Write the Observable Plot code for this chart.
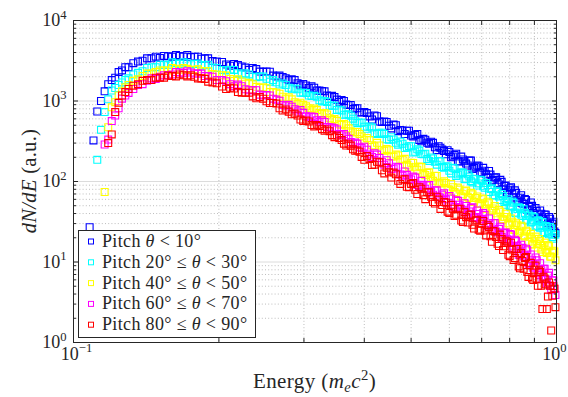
<!DOCTYPE html>
<html><head><meta charset="utf-8">
<script src="https://cdn.jsdelivr.net/npm/d3@7"></script>
<script src="https://cdn.jsdelivr.net/npm/@observablehq/plot@0.6"></script>
<style>
html,body{margin:0;padding:0;background:#fff;}
#chart{width:568px;height:397px;position:relative;}
</style></head><body><div id="chart"></div>
<script>
// Energy bins (m_e c^2), set A
const energyA = [0.108,0.110,0.112,0.114,0.116,0.118,0.120,0.122,0.124,0.126,0.128,0.130,0.133,0.136,0.139,0.142,0.145,0.148,0.151,0.154,0.157,0.160,0.163,0.166,0.169,0.172,0.175,0.178,0.181,0.184,0.187,0.190,0.194,0.198,
 0.203,0.211,0.219,0.227,0.235,0.243,0.251,0.259,0.267,0.275,0.283,0.291,0.299,0.307,0.315,0.323,0.331,0.339,0.347,0.355,0.363,0.371,0.379,0.387,0.395,
 0.405,0.415,0.425,0.435,0.445,0.455,0.465,0.475,0.485,0.495,0.505,0.515,0.525,0.535,0.545,0.555,0.565,0.575,0.585,0.595,0.605,0.615,0.625,0.635,0.645,0.655,0.665,0.675,0.685,0.695,0.705,0.715,0.725,0.735,0.745,0.755,0.765,0.775,0.785,0.795,0.805,0.815,0.825,0.835,0.845,0.855,0.865,0.875,0.885,0.895,0.905,0.915,0.925,0.935,0.945,0.955,0.965,0.975,0.985,0.995];
// Energy bins, set B (in between set A)
const energyB = [0.207,0.215,0.223,0.231,0.239,0.247,0.255,0.263,0.271,0.279,0.287,0.295,0.303,0.311,0.319,0.327,0.335,0.343,0.351,0.359,0.367,0.375,0.383,0.391,
 0.400,0.410,0.420,0.430,0.440,0.450,0.460,0.470,0.480,0.490,0.500,0.510,0.520,0.530,0.540,0.550,0.560,0.570,0.580,0.590,0.600,0.610,0.620,0.630,0.640,0.650,0.660,0.670,0.680,0.690,0.700,0.710,0.720,0.730,0.740,0.750,0.760,0.770,0.780,0.790,0.800,0.810,0.820,0.830,0.840,0.850,0.860,0.870,0.880,0.890,0.900,0.910,0.920,0.930,0.940,0.950,0.960,0.970,0.980,0.990];

// dN/dE, pitch θ < 10°
const pitch0_10A = [27,324,741,1000,1320,1620,1820,1950,2290,2400,2630,2630,2950,3090,3160,3390,3390,3550,3430,3630,3590,3550,3720,3630,3550,3720,3510,3550,3550,3350,3390,3390,3130,3090,
 3050,2750,2790,2600,2570,2320,2330,2070,2070,1910,1860,1660,1630,1450,1460,1350,1320,1150,1120,977,1000,891,794,813,724,
 708,589,646,550,550,457,501,437,389,427,363,389,316,331,295,302,245,263,240,245,200,214,178,204,178,158,182,148,158,129,148,123,135,102,112,95.5,105,79.4,89.1,77.6,85.1,63.1,72.4,55.0,67.6,52.5,58.9,43.7,55.0,40.7,46.8,34.7,43.7,34.7,38.9,28.8,36.3,27.5,31.6,22.9];
const pitch0_10B = [2850,2890,2690,2440,2490,2300,2310,2010,1990,1820,1820,1570,1560,1520,1350,1330,1170,1160,1040,1030,902,893,811,719,
 730,644,661,555,555,493,509,422,430,428,373,378,328,339,303,312,266,275,249,218,233,205,221,177,188,167,182,143,153,155,130,136,113,122,105,113,91.7,99.1,87.9,73.2,82.4,69.7,77.6,57.9,62.8,53.8,60.8,44.2,48.5,49.8,39.3,43.1,34.8,39.8,34.0,38.6,30.2,34.5,30.0,24.0];

// pitch 20° ≤ θ < 30°
const pitch20_30A = [null,null,186,438,728,1050,1350,1450,1580,1700,1820,1910,2140,2240,2340,2570,2630,2630,2820,2820,2820,3020,2950,2880,3020,2950,2850,2880,2920,2750,2790,2820,2600,2570,
 2430,2450,2210,2210,2000,2020,1890,1820,1600,1580,1400,1400,1270,1170,1160,1020,1000,871,871,776,676,684,603,531,537,
 452,468,389,403,335,355,302,313,260,275,229,251,219,221,180,193,162,178,148,155,126,145,122,130,107,123,101,108,89.1,105,87.1,95.5,74.1,82.2,66.8,76.7,58.9,66.1,51.3,60.3,47.9,54.3,40.3,47.9,38.9,45.2,33.5,38.9,30.9,36.7,27.5,33.1,26.6,31.3,22.9,27.5,22.1,26.0,19.5,21.9];
const pitch20_30B = [2400,2430,2140,2140,1980,2010,1740,1710,1650,1460,1430,1270,1260,1150,1130,989,974,879,775,762,674,657,560,541,
 479,483,398,403,390,330,333,287,295,265,274,234,242,218,190,199,176,180,151,153,136,148,117,126,128,108,115,97.5,107,94.7,103,83.7,90.4,80.5,67.5,74.5,65.0,70.0,55.4,57.4,49.7,56.4,41.2,45.5,47.0,37.2,40.6,32.7,37.2,31.6,35.8,28.2,32.4,28.6,23.6,27.9,24.0,27.2,20.4,22.0];

// pitch 40° ≤ θ < 50°
const pitch40_50A = [null,null,null,null,74,472,835,966,1170,1320,1480,1580,1780,1860,2040,2190,2190,2290,2400,2400,2400,2570,2510,2450,2570,2510,2430,2450,2480,2340,2340,2340,2160,2140,
 2090,1880,1860,1640,1620,1450,1440,1290,1230,1070,1050,923,897,813,804,708,708,610,596,513,519,457,407,412,363,
 347,282,302,245,254,204,216,186,191,153,170,140,151,120,130,102,117,94.4,101,79.4,93.3,74.1,84.1,65.3,75.9,64.6,72.4,55.6,65.3,53.7,61.7,45.7,53.7,43.2,49.5,36.7,42.2,33.9,39.8,30.2,34.7,25.1,30.2,22.9,28.2,21.4,24.5,17.8,22.4,16.6,20.7,15.1,18.2,13.3,17.4,12.9,15.7,11.6,13.8,10.5];
const pitch40_50B = [2070,1780,1750,1680,1500,1480,1290,1270,1130,1110,967,951,859,772,772,693,680,583,567,506,496,422,412,390,
 330,327,274,280,241,245,204,211,187,161,171,150,154,126,128,113,118,94.8,97.4,95.8,79.4,85.1,70.8,79.4,69.5,77.2,62.4,69.2,62.4,52.7,60.3,51.9,56.2,43.7,46.2,40.3,44.2,33.9,36.3,36.3,28.9,31.7,25.0,28.7,24.0,27.4,20.8,23.8,20.6,16.5,19.5,16.7,19.3,14.3,16.1,13.9,16.2,11.7,13.1,13.5];

// pitch 60° ≤ θ < 70°
const pitch60_70A = [null,null,null,null,288,332,563,661,813,1070,1170,1260,1410,1580,1620,1780,1910,1880,2000,2090,2090,2140,2290,2260,2240,2340,2260,2190,2190,2190,2040,2040,2000,1820,
 1820,1620,1600,1400,1360,1200,1190,1070,1010,881,851,741,713,638,631,550,550,473,457,389,389,339,295,295,260,
 248,202,216,176,184,143,153,122,133,108,115,90.2,102,81.3,90.2,68.4,77.6,63.1,71.6,54.3,61.7,47.9,57.5,45.7,53.7,39.8,46.8,35.5,43.7,33.9,40.7,29.2,34.7,25.1,30.5,23.2,27.5,19.5,23.2,17.2,21.9,15.0,18.2,12.3,16.4,11.7,14.6,9.55,12.4,8.51,11.4,7.33,9.66,6.10,8.22,5.43,7.33,4.52,5.89,3.89];
const pitch60_70B = [1760,1530,1530,1360,1360,1170,1170,1040,892,897,791,775,646,643,576,575,476,468,444,376,363,309,304,266,
 271,216,225,196,162,169,145,150,118,121,106,112,87.5,91.0,90.2,75.2,77.3,65.0,68.7,60.0,65.9,51.3,58.6,51.5,42.3,49.7,42.5,47.9,36.1,39.6,34.4,38.5,27.7,30.3,30.5,23.9,25.8,20.5,23.0,19.1,22.3,15.9,18.9,15.9,12.2,15.0,12.1,14.0,9.57,10.7,8.81,10.5,6.92,7.91,8.24,6.05,6.79,5.08,5.92,4.63];

// pitch 80° ≤ θ < 90°
const pitch80_90A = [null,null,null,null,null,300,384,728,950,1170,1290,1410,1550,1620,1780,1820,1820,1950,1950,1950,2070,2040,2020,2140,2090,2020,2090,2000,1910,1910,1880,1740,1700,1660,
 1510,1460,1290,1270,1140,1120,993,944,813,785,684,661,566,556,484,490,427,422,355,347,295,295,251,243,202,
 207,160,176,138,148,112,123,93.3,107,85.1,95.5,70.0,81.3,60.3,73.3,55.6,64.6,45.7,55.6,42.2,51.3,37.2,45.2,32.7,41.7,30.9,38.9,26.0,33.5,24.5,32.4,21.4,27.2,17.8,24.0,16.8,21.9,14.1,18.4,12.3,17.4,10.6,14.5,8.81,12.9,8.22,11.5,6.53,9.77,5.96,9.02,5.07,7.50,2.6,6.24,2.6,5.56,1.41,5.01,2.75];
const pitch80_90B = [1410,1430,1270,1270,1080,1070,945,929,760,738,697,588,572,502,505,447,443,376,372,327,280,279,241,234,
 186,191,162,173,126,130,129,102,106,86.1,93.3,78.9,85.0,67.6,73.6,64.6,53.3,59.6,50.9,55.0,40.7,46.0,38.6,46.0,31.4,36.1,38.2,29.0,32.7,25.2,30.0,24.7,28.7,20.9,24.3,20.5,15.8,19.3,15.7,17.9,11.8,14.3,11.2,14.5,8.36,10.3,11.2,7.52,9.04,6.22,8.04,6.12,7.84,5.07,6.58,5.27,3.72,5.08,3.80,4.68];

const seriesA = [pitch0_10A, pitch20_30A, pitch40_50A, pitch60_70A, pitch80_90A];
const seriesB = [pitch0_10B, pitch20_30B, pitch40_50B, pitch60_70B, pitch80_90B];
const seriesColors = ["#0000ff", "#00ffff", "#ffff00", "#ff00ff", "#ff0000"];
const legendLower = [null, "20°", "40°", "60°", "80°"];
const legendUpper = ["10°", "30°", "50°", "70°", "90°"];

const xMajorTicks = [0.1, 1];
const xMinorTicks = [0.2, 0.3, 0.4, 0.5, 0.6, 0.7, 0.8, 0.9];
const yMajorTicks = [1, 10, 100, 1000, 10000];
const yGridMajor = [10, 100, 1000];
const yMinorTicks = [2,3,4,5,6,7,8,9,20,30,40,50,60,70,80,90,200,300,400,500,600,700,800,900,2000,3000,4000,5000,6000,7000,8000,9000];

const serif = "'Liberation Serif', 'DejaVu Serif', serif";
const axisColor = "#262626";

const seriesMarks = seriesA.map((valsA, s) => {
  const rows = [];
  valsA.forEach((v, i) => { if (v != null) rows.push({E: energyA[i], v}); });
  seriesB[s].forEach((v, i) => { if (v != null) rows.push({E: energyB[i], v}); });
  return Plot.dot(rows, {x: "E", y: "v", symbol: "square", r: 3.9, stroke: seriesColors[s], strokeWidth: 1.1, fill: "none"});
});

const expLabel = d => "10^" + String(Math.round(Math.log10(d))).replace("-", "\u2212");

const chart = Plot.plot({
  width: 568, height: 397,
  marginLeft: 73, marginRight: 12, marginTop: 20, marginBottom: 55,
  style: {fontFamily: serif, background: "#fff", overflow: "visible"},
  x: {type: "log", domain: [0.1, 1]},
  y: {type: "log", domain: [1, 1e4]},
  marks: [
    Plot.gridX(xMinorTicks, {stroke: "#bdbdbd", strokeOpacity: 1, strokeDasharray: "1,2.2"}),
    Plot.gridY(yMinorTicks, {stroke: "#bdbdbd", strokeOpacity: 1, strokeDasharray: "1,2.2"}),
    Plot.gridY(yGridMajor, {stroke: "#dcdcdc", strokeOpacity: 1}),
    ...seriesMarks,
    Plot.frame({stroke: axisColor, strokeWidth: 1}),
    Plot.axisX(xMinorTicks, {anchor: "bottom", tickSize: -4, tickFormat: () => "", label: null, stroke: axisColor}),
    Plot.axisX(xMinorTicks, {anchor: "top", tickSize: -4, tickFormat: () => "", label: null, stroke: axisColor}),
    Plot.axisY(yMinorTicks, {anchor: "left", tickSize: -3, tickFormat: () => "", label: null, stroke: axisColor}),
    Plot.axisY(yMinorTicks, {anchor: "right", tickSize: -3, tickFormat: () => "", label: null, stroke: axisColor}),
    Plot.axisY(yMajorTicks, {anchor: "left", tickSize: -5, tickFormat: () => "", label: null, stroke: axisColor}),
    Plot.axisY(yMajorTicks, {anchor: "right", tickSize: -5, tickFormat: () => "", label: null, stroke: axisColor}),
    Plot.text(xMajorTicks.slice(0, 1), {x: d => d, frameAnchor: "bottom", dx: 3, dy: 17, text: expLabel, fontSize: 18, fill: axisColor, textAnchor: "middle"}),
    Plot.text(xMajorTicks.slice(1), {x: d => d, frameAnchor: "bottom", dx: -2, dy: 17, text: expLabel, fontSize: 18, fill: axisColor, textAnchor: "middle"}),
    Plot.text(yMajorTicks, {y: d => d, frameAnchor: "left", dx: -7, text: expLabel, fontSize: 18, fill: axisColor, textAnchor: "end"})
  ]
});

const svg = d3.select(chart);

// superscript exponents on tick labels
svg.selectAll("text").each(function() {
  const s = this.textContent;
  if (s.indexOf("^") < 0) return;
  const [b, e] = s.split("^");
  const t = d3.select(this);
  t.selectAll("*").remove();
  t.text(null);
  t.append("tspan").text(b);
  t.append("tspan").attr("font-size", "0.7em").attr("dy", "-0.6em").text(e);
});

// axis titles
const xt = svg.append("text").attr("x", 314.5).attr("y", 388).attr("text-anchor", "middle")
  .attr("font-family", serif).attr("font-size", 21).attr("letter-spacing", 0.4).attr("fill", axisColor);
xt.append("tspan").text("Energy (");
xt.append("tspan").attr("font-style", "italic").text("m");
xt.append("tspan").attr("font-style", "italic").attr("font-size", "0.7em").attr("dy", "0.25em").text("e");
xt.append("tspan").attr("font-style", "italic").attr("dy", "-0.175em").text("c");
xt.append("tspan").attr("font-size", "0.7em").attr("dy", "-0.55em").text("2");
xt.append("tspan").attr("dy", "0.385em").text(")");

const yt = svg.append("text").attr("transform", "translate(36,181) rotate(-90)").attr("text-anchor", "middle")
  .attr("font-family", serif).attr("font-size", 20.5).attr("letter-spacing", 0.3).attr("fill", axisColor);
yt.append("tspan").attr("font-style", "italic").text("dN/dE");
yt.append("tspan").text(" (a.u.)");

// legend
const lg = svg.append("g");
lg.append("rect").attr("x", 78.5).attr("y", 230.5).attr("width", 177).attr("height", 107)
  .attr("fill", "#fff").attr("stroke", axisColor).attr("stroke-width", 1);
seriesColors.forEach((c, i) => {
  const cy = 241.5 + i * 20.8;
  lg.append("rect").attr("x", 88.5).attr("y", cy - 2.5).attr("width", 5).attr("height", 5)
    .attr("fill", "none").attr("stroke", c).attr("stroke-width", 1);
  const t = lg.append("text").attr("x", 102).attr("y", cy + 5.5).attr("text-anchor", "start")
    .attr("font-family", serif).attr("font-size", 18).attr("letter-spacing", 0.35).attr("fill", axisColor);
  t.append("tspan").text("Pitch ");
  if (legendLower[i]) t.append("tspan").text(legendLower[i] + " \u2264 ");
  t.append("tspan").attr("font-style", "italic").text("\u03b8");
  t.append("tspan").text(" < " + legendUpper[i]);
});

document.getElementById("chart").appendChild(chart);
</script>
</body></html>
